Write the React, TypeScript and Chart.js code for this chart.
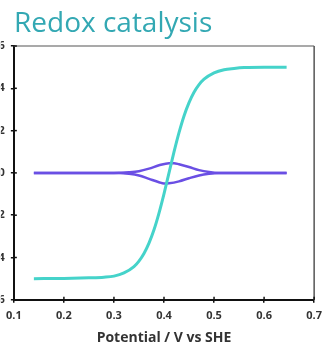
import React, { useEffect, useRef } from "react";
import { Chart, registerables } from "chart.js";

Chart.register(...registerables);

const potentialTeal = [0.14, 0.2, 0.25, 0.28, 0.3, 0.32, 0.34, 0.35, 0.36, 0.37, 0.38, 0.39, 0.4, 0.41, 0.42, 0.43, 0.44, 0.45, 0.46, 0.47, 0.48, 0.5, 0.52, 0.54, 0.56, 0.6, 0.645];
const currentTeal = [-5, -4.99, -4.96, -4.93, -4.88, -4.73, -4.43, -4.17, -3.81, -3.32, -2.69, -1.9, -0.99, 0, 0.99, 1.9, 2.69, 3.32, 3.81, 4.17, 4.43, 4.73, 4.88, 4.94, 4.98, 5.0, 5.0];

const potentialUpper = [0.14, 0.3, 0.33, 0.35, 0.37, 0.39, 0.41, 0.42, 0.43, 0.45, 0.47, 0.49, 0.51, 0.645];
const currentUpper = [0, 0, 0.03, 0.08, 0.2, 0.36, 0.46, 0.46, 0.41, 0.28, 0.13, 0.04, 0, 0];

const potentialLower = [0.14, 0.31, 0.33, 0.35, 0.37, 0.39, 0.4, 0.41, 0.43, 0.45, 0.47, 0.49, 0.51, 0.645];
const currentLower = [0, 0, -0.04, -0.12, -0.28, -0.44, -0.5, -0.49, -0.4, -0.25, -0.12, -0.04, 0, 0];

const xTicks = [0.1, 0.2, 0.3, 0.4, 0.5, 0.6, 0.7];
const yTicks = [-6, -4, -2, 0, 2, 4, 6];

const TEAL = "#45d3ca";
const PURPLE = "#6a4fe4";

const toPoints = (xs: number[], ys: number[]) => xs.map((x, i) => ({ x, y: ys[i] }));

const framePlugin = {
  id: "frame",
  afterDraw(chart: any) {
    const { ctx, chartArea: a, scales } = chart;
    ctx.save();
    ctx.lineWidth = 1.5;
    ctx.strokeStyle = "#8c8c8c";
    ctx.beginPath();
    ctx.moveTo(a.left, a.top);
    ctx.lineTo(a.right, a.top);
    ctx.stroke();
    ctx.strokeStyle = "#555";
    ctx.beginPath();
    ctx.moveTo(a.right, a.top);
    ctx.lineTo(a.right, a.bottom);
    ctx.stroke();
    ctx.strokeStyle = "#111";
    ctx.lineWidth = 1.5;
    scales.x.ticks.forEach((t: any) => {
      const px = scales.x.getPixelForValue(t.value);
      ctx.beginPath();
      ctx.moveTo(px, a.bottom);
      ctx.lineTo(px, a.bottom - 3);
      ctx.stroke();
    });
    scales.y.ticks.forEach((t: any) => {
      const py = scales.y.getPixelForValue(t.value);
      ctx.beginPath();
      ctx.moveTo(a.left, py);
      ctx.lineTo(a.left + 3, py);
      ctx.stroke();
    });
    ctx.restore();
  },
};

export default function App() {
  const ref = useRef<HTMLCanvasElement>(null);
  useEffect(() => {
    if (!ref.current) return;
    const chart = new Chart(ref.current, {
      type: "line",
      data: {
        datasets: [
          {
            data: toPoints(potentialTeal, currentTeal),
            borderColor: TEAL,
            borderWidth: 3,
            pointRadius: 0,
            cubicInterpolationMode: "monotone",
          },
          {
            data: toPoints(potentialUpper, currentUpper),
            borderColor: PURPLE,
            borderWidth: 2.5,
            pointRadius: 0,
            cubicInterpolationMode: "monotone",
          },
          {
            data: toPoints(potentialLower, currentLower),
            borderColor: PURPLE,
            borderWidth: 2.5,
            pointRadius: 0,
            cubicInterpolationMode: "monotone",
          },
        ],
      },
      options: {
        animation: false,
        responsive: false,
        layout: { padding: { top: 46, right: 11, left: 0, bottom: 0 } },
        plugins: { legend: { display: false }, tooltip: { enabled: false }, title: { display: false } },
        scales: {
          x: {
            type: "linear",
            min: 0.1,
            max: 0.7,
            afterBuildTicks: (s: any) => {
              s.ticks = xTicks.map((v) => ({ value: v }));
            },
            ticks: {
              color: "#333",
              font: { family: "Open Sans", weight: "bold", size: 11 },
              padding: 6,
              callback: (v: any) => Number(v).toFixed(1),
            },
            grid: { display: true, drawOnChartArea: false, drawTicks: true, tickLength: 3, color: "#111", lineWidth: 1.5 },
            border: { color: "#111", width: 2 },
            title: {
              display: true,
              text: "Potential / V vs SHE",
              color: "#333",
              font: { family: "Open Sans", weight: "bold", size: 14, lineHeight: 1 },
              padding: { top: 3, bottom: 0 },
            },
          },
          y: {
            type: "linear",
            min: -6,
            max: 6,
            afterBuildTicks: (s: any) => {
              s.ticks = yTicks.map((v) => ({ value: v }));
            },
            afterFit: (s: any) => {
              s.width = 13;
            },
            ticks: {
              color: "#333",
              font: { family: "Open Sans", weight: "bold", size: 11 },
              padding: 6,
            },
            grid: { display: true, drawOnChartArea: false, drawTicks: true, tickLength: 3, color: "#111", lineWidth: 1.5 },
            border: { color: "#111", width: 2 },
          },
        },
      },
      plugins: [framePlugin],
    });
    return () => chart.destroy();
  }, []);
  return (
    <div style={{ position: "fixed", left: 0, top: 0, width: 328, height: 345, background: "#fff" }}>
      <canvas ref={ref} width={328} height={345} style={{ width: 328, height: 345, display: "block" }} />
      <div
        style={{
          position: "absolute",
          left: 14,
          top: 7,
          fontFamily: "Open Sans",
          fontSize: 28,
          lineHeight: 1,
          color: "#33a8b3",
          whiteSpace: "nowrap",
        }}
      >
        Redox catalysis
      </div>
    </div>
  );
}
